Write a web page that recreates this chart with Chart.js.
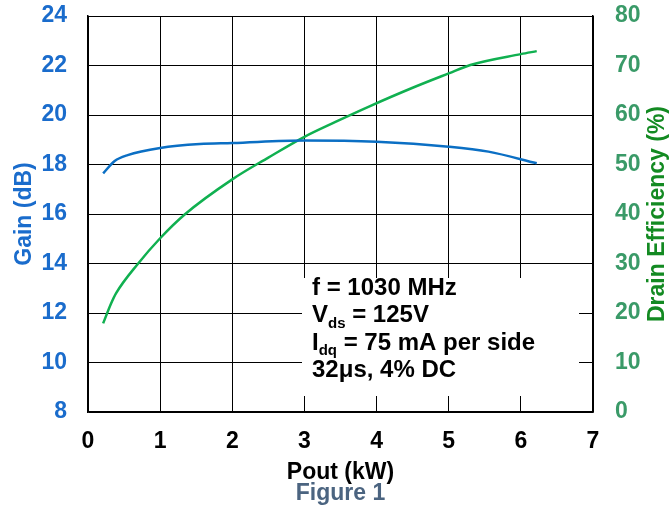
<!DOCTYPE html>
<html>
<head>
<meta charset="utf-8">
<script src="https://cdn.jsdelivr.net/npm/chart.js@4.4.1/dist/chart.umd.min.js"></script>
<style>
  html, body { margin: 0; padding: 0; background: #fff; }
  #wrap { width: 670px; height: 512px; }
</style>
</head>
<body>
<div id="wrap"><canvas id="chart"></canvas></div>
<script>
// Valores (Pout em kW)
const gainPower = [0.21, 0.37, 0.55, 1.0, 1.55, 2.0, 3.0, 4.0, 5.0, 5.55, 6.22];
const gainDb = [17.64, 18.14, 18.38, 18.67, 18.83, 18.87, 18.97, 18.92, 18.72, 18.52, 18.05];

const effPower = [0.21, 0.32, 0.39, 0.69, 1.0, 1.34, 2.0, 2.5, 3.0, 3.43, 3.91, 4.5, 5.0, 5.3, 6.0, 6.22];
const effPct = [17.9, 21.9, 24.0, 29.9, 35.1, 39.9, 47.0, 51.4, 55.6, 58.6, 61.8, 65.5, 68.4, 70.1, 72.3, 72.9];

const xTicks = [0, 1, 2, 3, 4, 5, 6, 7];
const gainTicks = [8, 10, 12, 14, 16, 18, 20, 22, 24];
const effTicks = [0, 10, 20, 30, 40, 50, 60, 70, 80];

const noteLines = [
  ['f = 1030 MHz', ''],
  ['V', 'ds', ' = 125V'],
  ['I', 'dq', ' = 75 mA per side'],
  ['32\u03bcs, 4% DC', '']
];

const FONT = 'Liberation Sans, Arial, sans-serif';
const BLUE = '#1a6ccc';
const GREEN_TICK = '#3a9a68';
const GREEN_TITLE = '#138a22';

function toPoints(xs, ys) {
  return xs.map((x, i) => ({ x: x, y: ys[i] }));
}

// largura fixa dos eixos verticais, sem padding extra dos rótulos
function fixVertical(w) {
  return s => { s.width = w; s.paddingTop = 0; s.paddingBottom = 0; };
}

// Caixa de anotação, título do eixo direito e legenda "Figure 1"
const notePlugin = {
  id: 'notePlugin',
  afterDatasetsDraw(chart) {
    const { ctx, chartArea } = chart;
    ctx.save();
    const bx = chartArea.left + 214;
    const by = chartArea.top + 262;
    ctx.fillStyle = '#fff';
    ctx.fillRect(bx, by, chartArea.right - 14 - bx, chartArea.top + 380 - by);

    ctx.fillStyle = '#000';
    ctx.textBaseline = 'middle';
    let y = by + 10;
    noteLines.forEach(line => {
      let x = bx + 10;
      ctx.font = 'bold 24px ' + FONT;
      ctx.fillText(line[0], x, y);
      x += ctx.measureText(line[0]).width;
      if (line.length > 2) {
        ctx.font = 'bold 15px ' + FONT;
        ctx.fillText(line[1], x, y + 8);
        x += ctx.measureText(line[1]).width;
        ctx.font = 'bold 24px ' + FONT;
        ctx.fillText(line[2], x, y);
      }
      y += 27.5;
    });

    ctx.textAlign = 'center';
    ctx.font = 'bold 23px ' + FONT;
    ctx.fillStyle = '#4b6480';
    ctx.fillText('Figure 1', (chartArea.left + chartArea.right) / 2, 494);

    // título da direita lido de baixo para cima
    ctx.save();
    ctx.translate(658, (chartArea.top + chartArea.bottom) / 2);
    ctx.rotate(-Math.PI / 2);
    ctx.fillStyle = GREEN_TITLE;
    ctx.fillText('Drain Efficiency (%)', 0, 0);
    ctx.restore();
    ctx.restore();
  }
};

document.addEventListener('DOMContentLoaded', function() {
  const el = document.getElementById('chart');
  new Chart(el, {
    type: 'line',
    data: {
      datasets: [
        {
          label: 'Gain',
          data: toPoints(gainPower, gainDb),
          yAxisID: 'y',
          borderColor: '#0b6fc4',
          borderWidth: 2.5,
          pointRadius: 0,
          cubicInterpolationMode: 'monotone',
          fill: false
        },
        {
          label: 'Drain Efficiency',
          data: toPoints(effPower, effPct),
          yAxisID: 'y1',
          borderColor: '#10b050',
          borderWidth: 2.5,
          pointRadius: 0,
          cubicInterpolationMode: 'monotone',
          fill: false
        }
      ]
    },
    options: {
      responsive: true,
      maintainAspectRatio: false,
      animation: false,
      layout: { padding: { top: 16, left: 0, right: 0, bottom: 0 } },
      plugins: { legend: { display: false }, tooltip: { enabled: false } },
      scales: {
        x: {
          type: 'linear',
          min: 0,
          max: 7,
          afterBuildTicks: s => { s.ticks = xTicks.map(v => ({ value: v })); },
          afterFit: s => { s.height = 100; s.paddingLeft = 0; s.paddingRight = 0; },
          grid: { color: '#000', lineWidth: 1, drawTicks: false },
          border: { color: '#000', width: 1.5 },
          ticks: { color: '#000', padding: 16, font: { family: FONT, size: 23, weight: 'bold' } },
          title: {
            display: true,
            text: 'Pout (kW)',
            color: '#000',
            padding: { top: 0, bottom: 28 },
            font: { family: FONT, size: 23, weight: 'bold', lineHeight: 1 }
          }
        },
        y: {
          position: 'left',
          min: 8,
          max: 24,
          afterBuildTicks: s => { s.ticks = gainTicks.map(v => ({ value: v })); },
          afterFit: fixVertical(88),
          grid: { color: '#000', lineWidth: 1, drawTicks: false },
          border: { color: '#000', width: 1.5 },
          ticks: { color: BLUE, padding: 21, font: { family: FONT, size: 23, weight: 'bold' } },
          title: {
            display: true,
            text: 'Gain (dB)',
            color: BLUE,
            padding: { top: 13, bottom: 0 },
            font: { family: FONT, size: 23, weight: 'bold', lineHeight: 1 }
          }
        },
        y1: {
          position: 'right',
          min: 0,
          max: 80,
          afterBuildTicks: s => { s.ticks = effTicks.map(v => ({ value: v })); },
          afterFit: fixVertical(77),
          grid: { drawOnChartArea: false, drawTicks: false },
          border: { color: '#000', width: 1.5 },
          ticks: { color: GREEN_TICK, padding: 22, font: { family: FONT, size: 23, weight: 'bold' } },
          title: { display: false }
        }
      }
    },
    plugins: [notePlugin]
  });
});
</script>
</body>
</html>
